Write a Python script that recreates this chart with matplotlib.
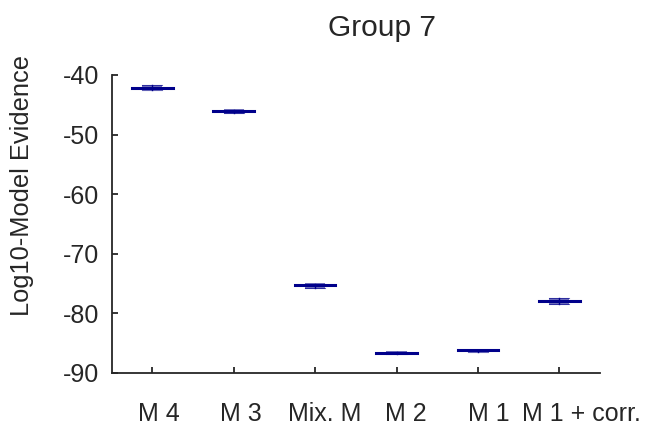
import matplotlib

matplotlib.use("Agg")
import matplotlib.pyplot as plt
import matplotlib.transforms as mtransforms

plt.rcParams["font.family"] = ["Liberation Sans", "DejaVu Sans"]
plt.rcParams["axes.unicode_minus"] = False

# log10 model evidence per model, group 7
models = ["M 4", "M 3", "Mix. M", "M 2", "M 1", "M 1 + corr."]
means = [-42.1, -46.1, -75.3, -86.6, -86.2, -78.0]
box_lo = [-42.6, -46.5, -75.85, -86.85, -86.5, -78.55]
box_hi = [-41.65, -45.75, -74.85, -86.3, -86.1, -77.45]
whisk_lo = [-42.5, -46.4, -75.7, -86.75, -86.4, -78.4]
whisk_hi = [-41.75, -45.85, -75.0, -86.4, -86.15, -77.45]
yticks = [-90, -80, -70, -60, -50, -40]

NAVY = "#00008b"
BOX = "#5c5cb2"
INK = "#262626"

fig = plt.figure(figsize=(6.51, 4.30), dpi=100)
ax = fig.add_axes([0.1714, 0.1326, 0.7503, 0.6930])

xs = list(range(1, len(models) + 1))
for x, m, lo, hi, wlo, whi in zip(xs, means, box_lo, box_hi, whisk_lo, whisk_hi):
    ax.fill_between([x - 0.125, x + 0.125], lo, hi, color=BOX, alpha=0.85,
                    linewidth=0, zorder=2)
    ax.plot([x, x], [wlo, whi], color=NAVY, lw=1.0, zorder=3)
    ax.plot([x - 0.125, x + 0.125], [whi, whi], color=NAVY, lw=0.8, alpha=0.6, zorder=3)
    ax.plot([x - 0.125, x + 0.125], [wlo, wlo], color=NAVY, lw=0.8, alpha=0.6, zorder=3)
    ax.plot([x - 0.25, x + 0.25], [m, m], color=NAVY, lw=2.2, zorder=4)

ax.set_xlim(0.5, len(models) + 0.5)
ax.set_ylim(-90, -40)
ax.set_yticks(yticks)
ax.set_xticks(xs, labels=models)

for side in ("top", "right"):
    ax.spines[side].set_visible(False)
for side in ("left", "bottom"):
    ax.spines[side].set_color(INK)
    ax.spines[side].set_linewidth(1.3)

ax.tick_params(axis="both", direction="in", length=4, width=1.3, color=INK,
               labelsize=18, labelcolor=INK)
ax.tick_params(axis="y", pad=9)
ax.tick_params(axis="x", pad=21)

# nudge the category labels to the right, last one a bit more
nudges = [7, 7, 10, 9.5, 11, 22]
for lab, dx in zip(ax.get_xticklabels(), nudges):
    lab.set_transform(lab.get_transform()
                      + mtransforms.ScaledTranslation(dx / 100, 0, fig.dpi_scale_trans))

fig.text(382.5 / 651, 1 - 36 / 430, "Group 7", ha="center", va="baseline",
         fontsize=21.5, color=INK)
fig.text(22 / 651, 1 - 186 / 430, "Log10-Model Evidence", rotation=90,
         ha="center", va="center", fontsize=18.3, color=INK)

fig.savefig("out.png", dpi=100)
